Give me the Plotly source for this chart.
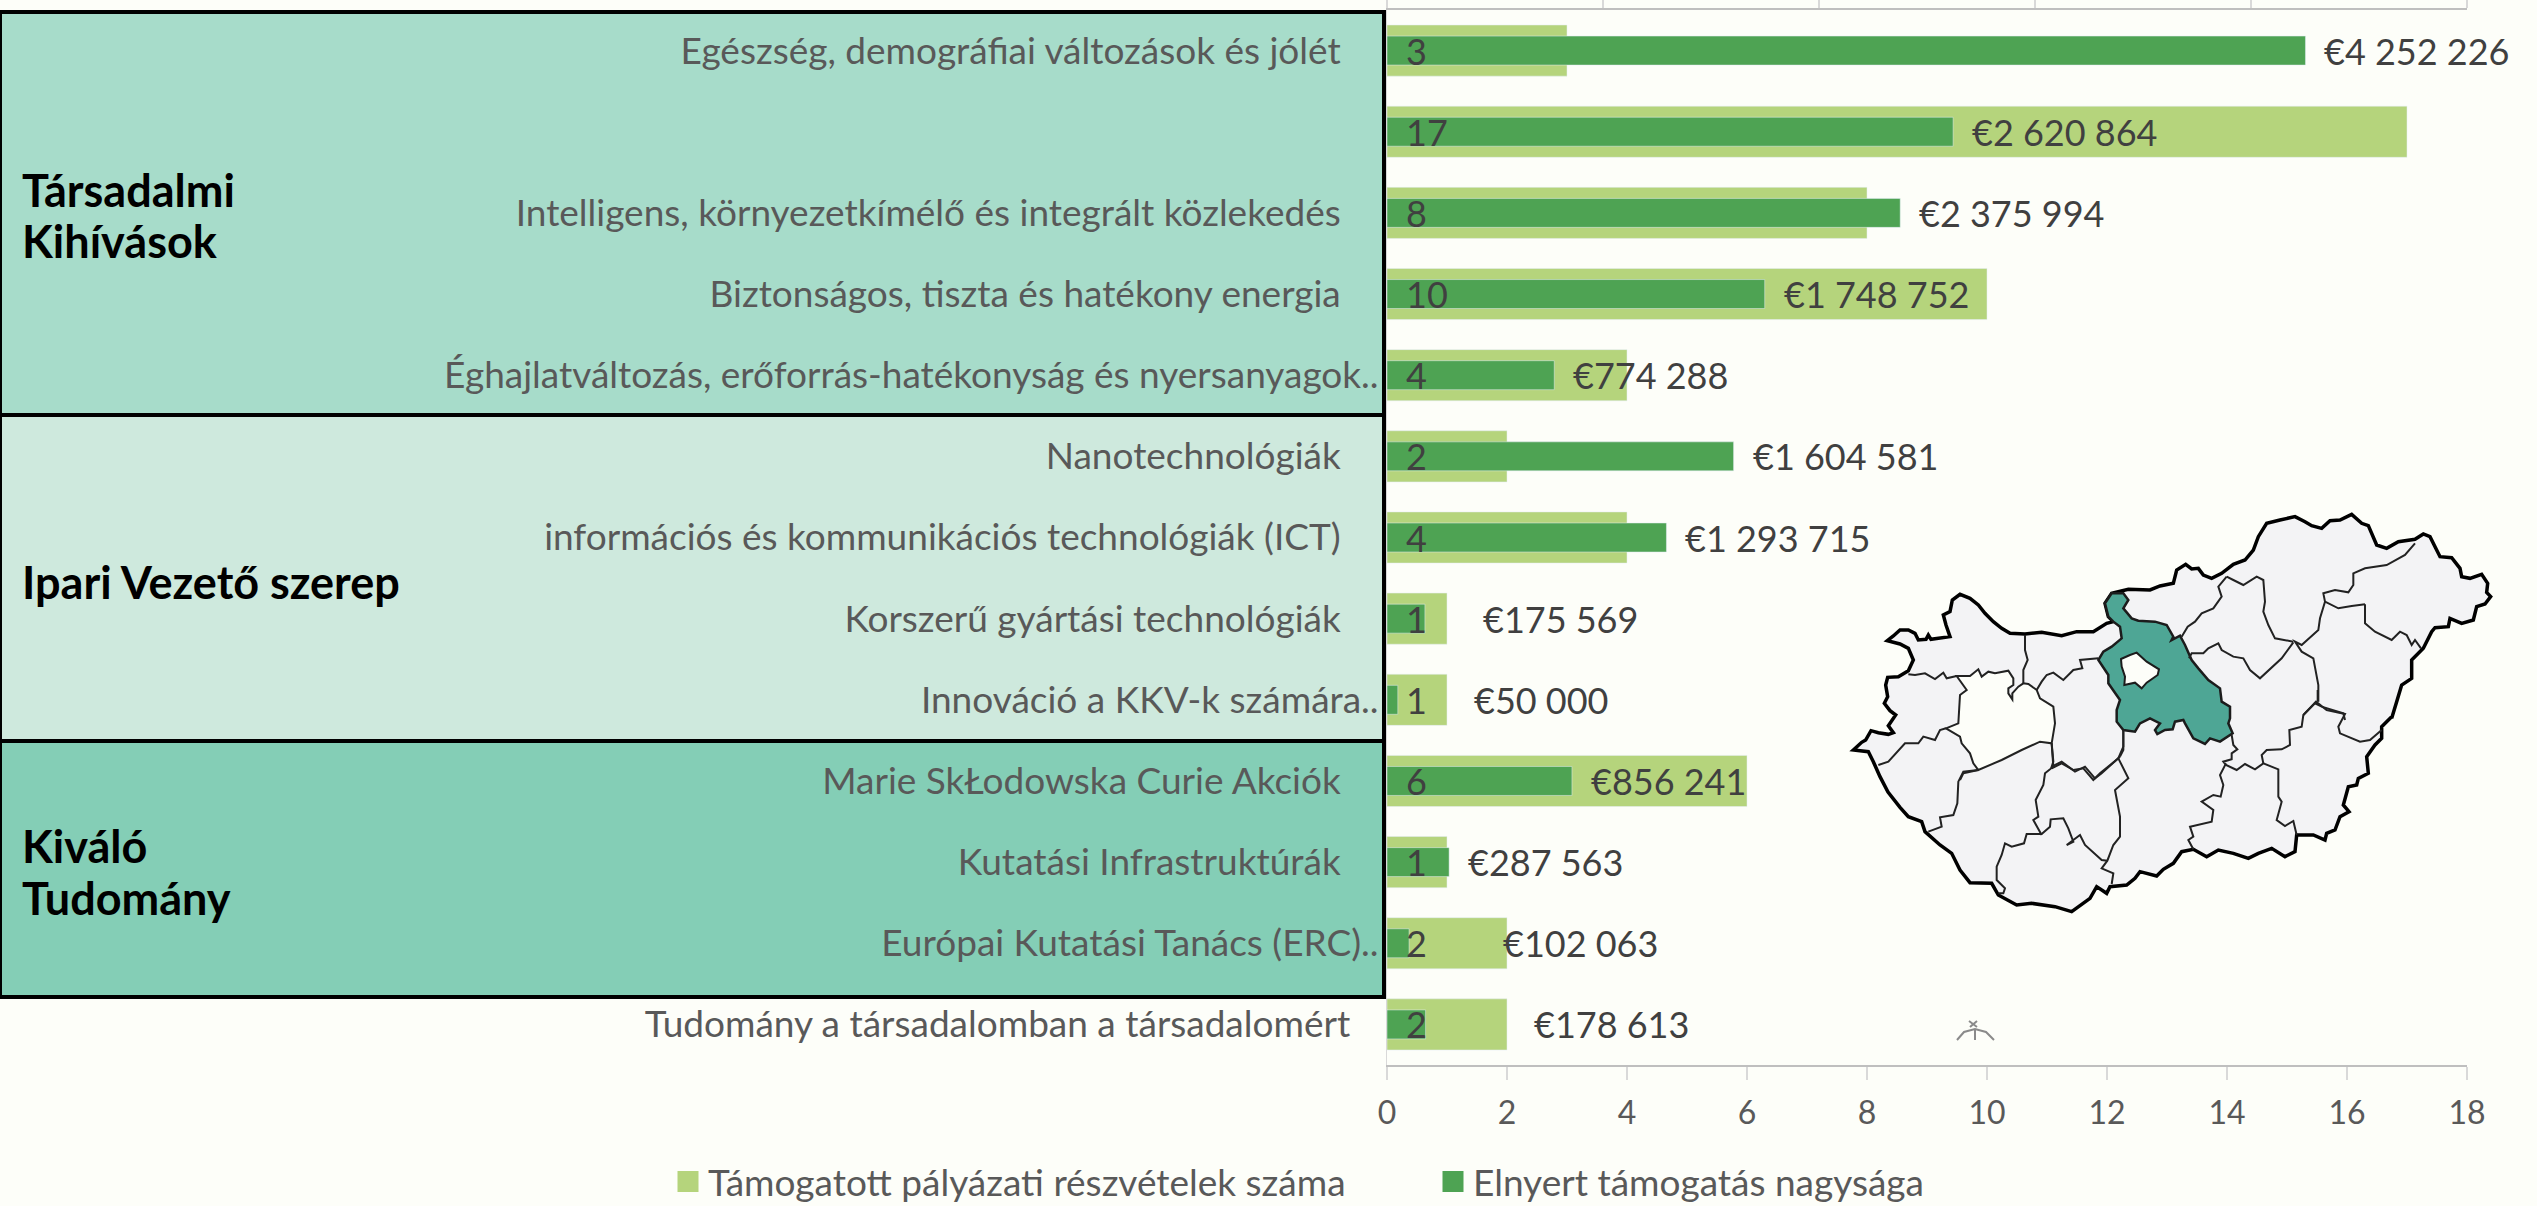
import plotly.graph_objects as go

# ---------- data ----------
categories = [
    "Egészség, demográfiai változások és jólét",
    " ",
    "Intelligens, környezetkímélő és integrált közlekedés",
    "Biztonságos, tiszta és hatékony energia",
    "Éghajlatváltozás, erőforrás-hatékonyság és nyersanyagok..",
    "Nanotechnológiák",
    "információs és kommunikációs technológiák (ICT)",
    "Korszerű gyártási technológiák",
    "Innováció a KKV-k számára..",
    "Marie SkŁodowska Curie Akciók",
    "Kutatási Infrastruktúrák",
    "Európai Kutatási Tanács (ERC)..",
    "Tudomány a társadalomban a társadalomért",
]
participations = [3, 17, 8, 10, 4, 2, 4, 1, 1, 6, 1, 2, 2]
funding = [4252226, 2620864, 2375994, 1748752, 774288, 1604581, 1293715,
           175569, 50000, 856241, 287563, 102063, 178613]
series_names = ["Támogatott pályázati részvételek száma", "Elnyert támogatás nagysága"]
x_ticks = [0, 2, 4, 6, 8, 10, 12, 14, 16, 18]

# ---------- styling / layout helpers ----------
W, H = 2537, 1206
L, R, T, B = 1387, 70, 10, 141
PW, PH = W - L - R, H - T - B
BG = "#FDFEF9"
LIGHT = "#B5D47C"
DARK = "#4EA353"
FONT = "Lato"
TICK = "#595959"
LABEL = "#404040"
tick_pad = [4, 0, 4, 4, 0, 4, 4, 4, 0, 4, 4, 0, 3]
label_shift = [17, 17, 17, 17, 17, 17, 17, 56, 74, 17, 17, 92, 106]
NB = "\u00a0"


def px(x):
    return (x - L) / PW


def py(y):
    return 1 - (y - T) / PH


def path(points, close=False):
    s = "M" + " L".join(f"{px(x):.5f},{py(y):.5f}" for x, y in points)
    return s + (" Z" if close else "")


def crop(ox, oy, pts):
    return [(ox + x / 3, oy + y / 3) for x, y in pts]


A, Bc, Cc, Dc = (1845, 580), (2165, 505), (1900, 730), (2150, 690)

outer = (
    crop(*A, [(25,510),(50,487),(62,480),(78,452),(100,458),(130,463),(145,458),(130,437),(152,405),(135,392),(118,370),(128,350),(122,315),(128,292),(160,290),(190,272),(205,240),(190,205),(165,192),(127,182),(145,168),(165,150),(190,150),(210,160),(220,180),(243,178),(250,165),(258,178),(315,170),(303,135),(295,105),(315,95),(322,60),(345,43),(375,55),(400,75),(420,100),(445,125),(470,145),(495,160),(540,162),(590,157),(650,167),(695,155),(745,155),(785,130),(805,125),(790,110),(780,70),(800,40),(850,28),(915,30),(945,18),(985,10)])
    + crop(*Bc, [(35,195),(62,178),(80,192),(100,190),(115,210),(140,220),(170,205),(205,178),(240,165),(265,135),(280,95),(305,55),(345,45),(390,35),(420,50),(440,62),(470,70),(495,47),(525,45),(560,28),(590,55),(610,62),(635,120),(665,130),(700,110),(750,103),(775,87),(795,95),(825,155),(860,158),(885,190),(890,215),(915,220),(950,208),(968,235),(965,262),(977,275),(960,297),(935,305),(925,345),(890,355),(855,340),(850,365),(810,368),(800,380),(775,430),(740,465),(740,520),(710,540),(695,590),(680,640)])
    + crop(*Dc, [(725,80),(695,110),(695,145),(675,165),(650,200),(655,250),(625,265),(620,285),(595,290),(580,345),(597,365),(570,380),(555,420),(530,430),(525,450),(490,435),(440,435),(435,485),(405,500),(365,475),(325,490),(295,505),(250,490),(205,480),(170,500),(130,478),(95,485),(70,520),(40,538)])
    + crop(*Cc, [(770,438),(720,425),(705,445),(680,465),(630,470),(620,490),(590,470),(570,505),(515,545),(465,530),(395,520),(350,525),(295,495),(275,460),(210,458),(180,420),(155,370),(120,345),(75,305),(65,275),(25,260),(0,232)])
    + [(1888, 792)]
    + crop(*A, [(105,590),(85,545),(70,515)])
)
pest = (
    crop(*A, [(805,125),(790,110),(780,70),(800,40),(835,40),(850,60),(835,85),(860,115),(880,122),(930,125),(965,135),(985,170)])
    + crop(*Bc, [(20,405),(45,392),(60,420),(80,465),(100,490),(130,525),(165,550)])
    + crop(*Dc, [(215,35),(240,50),(240,85),(235,100),(248,130),(210,155),(180,145),(165,162),(130,145),(105,100),(100,90),(75,95),(68,118),(45,120),(22,132),(15,120),(30,100),(0,85)])
    + crop(*A, [(885,430),(870,455),(835,450),(815,425),(815,390),(825,360),(790,310),(790,285),(760,240),(775,215),(800,200),(830,175),(825,140)])
)
budapest = crop(*A, [(828,237),(855,225),(875,218),(905,245),(942,268),(938,285),(905,308),(890,325),(870,308),(838,315),(840,290),(830,260)])
veszprem = (
    crop(*A, [(335,288),(375,288),(400,268),(410,290),(430,275),(450,280),(490,272),(505,295),(505,315),(490,325),(490,340),(502,358),(502,340),(520,320),(535,310),(550,312),(575,330),(585,355),(625,380),(630,430),(620,490),(585,485),(530,510),(470,540),(400,570),(385,550),(375,520),(350,490),(345,470),(303,445),(340,430),(345,345),(365,330)])
)
inner = [
    crop(*A, [(190,283),(210,285),(240,280),(270,297),(295,278),(305,295),(335,288)]),
    crop(*A, [(540,165),(540,210),(548,240),(535,270),(535,310)]),
    crop(*A, [(575,330),(590,305),(605,285),(625,278),(655,300),(685,270),(712,265),(705,240),(760,235)]),
    crop(*A, [(620,490),(625,545),(620,560),(650,545),(690,575),(720,560),(750,595),(770,580),(825,530)]),
    crop(*A, [(100,555),(130,545),(180,490),(220,490),(235,470),(270,480),(285,450),(303,445)]),
    crop(*A, [(400,570),(355,580),(345,600)]),
    crop(*A, [(835,450),(835,510),(825,530)]),
    crop(*Cc, [(235,120),(190,125),(175,155),(172,220),(160,255),(120,262),(125,290),(85,305)]),
    crop(*Cc, [(455,40),(460,110),(435,130),(430,165),(407,210),(415,260),(400,270),(425,315)]),
    crop(*Cc, [(425,312),(380,312),(372,340),(335,350),(315,340),(305,375),(290,410),(290,450),(315,475),(310,490),(295,490)]),
    crop(*Cc, [(425,312),(450,290),(452,268),(490,265),(505,295),(520,335),(500,345),(540,315),(555,345),(605,390),(622,392)]),
    crop(*Cc, [(455,115),(485,100),(520,120),(550,115),(580,150),(600,130),(655,85)]),
    crop(*Cc, [(670,0),(670,50),(655,85),(685,145),(645,180),(660,260),(660,320),(640,345),(622,392),(605,415),(640,430),(635,462)]),
    crop(*Dc, [(228,220),(210,255),(220,285),(212,320),(190,315),(155,335),(190,360),(185,395),(120,410),(130,440),(115,450),(130,478)]),
    crop(*Dc, [(245,135),(250,165),(262,178),(245,190),(245,208),(220,215),(228,225),(260,240),(285,222),(315,238),(340,220),(385,238),(385,320),(395,335),(380,390),(405,408),(430,393),(440,435)]),
    crop(*Dc, [(340,220),(335,195),(350,180),(395,178),(420,165),(418,120),(455,110),(460,75),(498,35),(530,60),(585,72),(565,110),(570,130),(630,155),(660,150),(695,120)]),
    crop(*Dc, [(503,0),(503,35)]),
    crop(*Bc, [(600,298),(600,355),(630,380),(680,405),(705,380),(725,390),(740,420),(750,405),(768,430)]),
    crop(*Bc, [(750,115),(720,150),(665,180),(600,190),(565,205),(565,240),(550,262),(510,255),(475,265),(480,290),(520,310),(560,303),(600,298)]),
    crop(*Bc, [(480,290),(465,340),(460,375),(410,420),(390,410),(410,440),(445,460),(460,540),(460,590)]),
    crop(*Bc, [(415,630),(450,595),(470,605),(535,625),(540,645)]),
    crop(*Bc, [(185,215),(160,245),(170,275),(145,310),(110,325),(90,350),(68,365),(50,395)]),
    crop(*Bc, [(185,215),(205,225),(235,240),(275,215),(295,225),(300,290),(295,320),(310,360),(330,400),(385,410)]),
    crop(*Bc, [(385,412),(350,460),(285,520),(255,495),(235,460),(205,455),(170,435),(160,415),(130,430),(115,445),(80,445),(72,460)]),
]

shapes = []
for y0, y1, color in [(12, 415, "#A7DCCA"), (415, 741, "#CEE9DD"), (741, 997, "#84CEB6")]:
    shapes.append(dict(type="rect", xref="paper", yref="paper", x0=px(0), x1=px(1384),
                       y0=py(y1), y1=py(y0), fillcolor=color, layer="below",
                       line=dict(color="#000000", width=4)))
shapes.append(dict(type="path", xref="paper", yref="paper", path=path(outer, True),
                   fillcolor="#F3F3F5", line=dict(color="#000000", width=3.5), layer="above"))
shapes.append(dict(type="path", xref="paper", yref="paper", path=path(veszprem, True),
                   fillcolor=BG, line=dict(color="#222222", width=2), layer="above"))
shapes.append(dict(type="path", xref="paper", yref="paper", path=path(pest, True),
                   fillcolor="#4EA695", line=dict(color="#1c1c1c", width=2.5), layer="above"))
shapes.append(dict(type="path", xref="paper", yref="paper", path=path(budapest, True),
                   fillcolor=BG, line=dict(color="#1c1c1c", width=2), layer="above"))
for seg in inner:
    shapes.append(dict(type="path", xref="paper", yref="paper", path=path(seg),
                       line=dict(color="#222222", width=2), layer="above"))
# small emblem remnant under the map
dome = [(1957,1040),(1964,1032),(1975,1029),(1986,1032),(1994,1040)]
shapes.append(dict(type="path", xref="paper", yref="paper", path=path(dome),
                   line=dict(color="#8a8a8a", width=2), layer="above"))
shapes.append(dict(type="path", xref="paper", yref="paper",
                   path=path([(1975,1029),(1975,1040)]) + " " + path([(1969,1021),(1977,1027)]) + " " + path([(1977,1021),(1970,1027)]),
                   line=dict(color="#8a8a8a", width=2), layer="above"))

annotations = []
for text, x, y in [("Társadalmi", 20, 190), ("Kihívások", 20, 241), ("Ipari Vezető szerep", 20, 582),
                   ("Kiváló", 20, 846), ("Tudomány", 20, 898)]:
    annotations.append(dict(text=f"<b>{text}</b>", xref="paper", yref="paper", x=px(x), y=py(y),
                            xanchor="left", yanchor="middle", showarrow=False,
                            font=dict(family=FONT, size=45, color="#000000")))
for c, p, f, s in zip(categories, participations, funding, label_shift):
    annotations.append(dict(text=str(p), xref="x", yref="y", x=0, y=c, xshift=17, xanchor="left",
                            yanchor="middle", showarrow=False,
                            font=dict(family=FONT, size=36, color=LABEL)))
    annotations.append(dict(text=f"€{f:,}".replace(",", " "), xref="x2", yref="y", x=f, y=c, xshift=s,
                            xanchor="left", yanchor="middle", showarrow=False,
                            font=dict(family=FONT, size=36, color=LABEL)))

fig = go.Figure()
fig.add_trace(go.Bar(y=categories, x=participations, orientation="h", name=series_names[0],
                     marker_color=LIGHT, width=0.63, xaxis="x", yaxis="y", showlegend=False,
                     legendgroup="a", hoverinfo="x+y"))
fig.add_trace(go.Bar(y=categories, x=funding, orientation="h", name=series_names[1],
                     marker_color=DARK, width=0.357, xaxis="x2", yaxis="y", showlegend=False,
                     legendgroup="b", hoverinfo="x+y"))
for name, color, grp in [(series_names[0], LIGHT, "a"), (series_names[1], DARK, "b")]:
    fig.add_trace(go.Scatter(x=[None], y=[None], mode="markers", name=name, legendgroup=grp,
                             marker=dict(symbol="square", size=16, color=color,
                                         line=dict(color=color, width=5))))

fig.update_layout(
    width=W, height=H, autosize=False,
    margin=dict(l=L, r=R, t=T, b=B, pad=0, autoexpand=False),
    paper_bgcolor=BG, plot_bgcolor=BG,
    barmode="overlay",
    font=dict(family=FONT, size=35, color=TICK),
    shapes=shapes, annotations=annotations,
    legend=dict(orientation="h", x=px(668), xanchor="left", y=py(1182), yanchor="middle",
                font=dict(family=FONT, size=37, color=TICK), bgcolor="rgba(0,0,0,0)",
                traceorder="normal", entrywidth=720, entrywidthmode="pixels", itemclick=False),
    xaxis=dict(domain=[0, 1], range=[0, 18], tickmode="array", tickvals=x_ticks, side="bottom",
               showgrid=False, zeroline=False, showline=True, linecolor="#BFBFBF", linewidth=2,
               ticks="outside", ticklen=13, tickcolor="#D9D9D9", tickwidth=2, ticklabelstandoff=6,
               tickfont=dict(family=FONT, size=32, color=TICK)),
    xaxis2=dict(range=[0, 5000000], dtick=1000000, overlaying="x", side="top", showgrid=False,
                zeroline=False, showline=True, linecolor="#BFBFBF", linewidth=2, ticks="outside",
                ticklen=10, tickcolor="#D9D9D9", tickwidth=2, showticklabels=False),
    yaxis=dict(type="category", categoryorder="array", categoryarray=categories, autorange=False,
               range=[12.5, -0.5], showgrid=False, zeroline=False, showline=True,
               linecolor="#D9D9D9", linewidth=1, ticks="",
               tickmode="array", tickvals=categories,
               ticktext=[c + NB * n for c, n in zip(categories, tick_pad)],
               tickfont=dict(family=FONT, size=37, color=TICK)),
)

fig.write_html("out.html", config={"displayModeBar": False},
               post_script="document.body.style.margin='0';document.body.style.background='#FDFEF9';document.body.style.overflow='hidden';")
